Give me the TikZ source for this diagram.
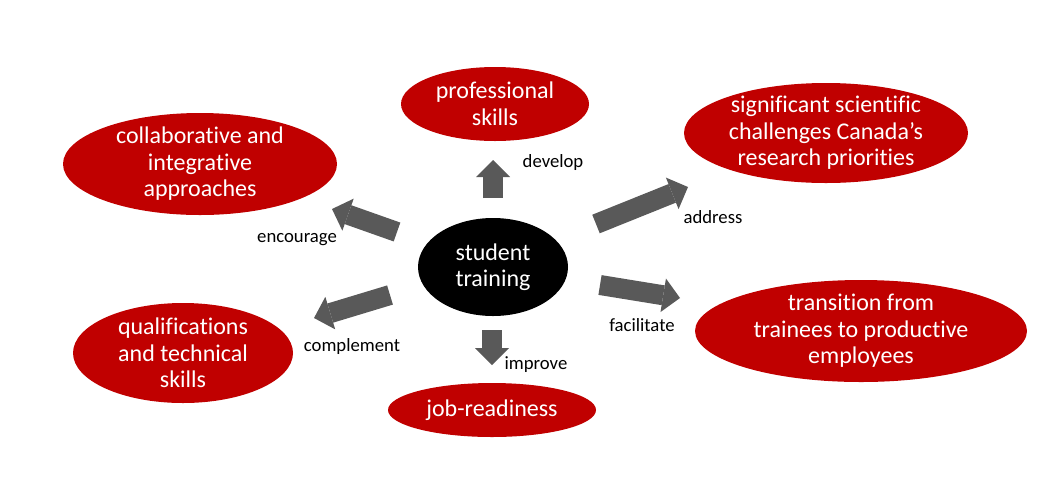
\documentclass[tikz,border=0pt]{standalone}
\usepackage{fontspec}
\setmainfont{Carlito}[Ligatures=CommonOff]
\usetikzlibrary{shapes.geometric,arrows.meta}
\definecolor{darkred}{HTML}{C00000}
\definecolor{arrgray}{HTML}{595959}
\tikzset{
  ell/.style={ellipse, inner sep=0pt, outer sep=0pt, draw=none},
  redell/.style={ell, fill=darkred},
  blackell/.style={ell, fill=black},
  elltext/.style={text=white, align=center, inner sep=0pt, font=\fontsize{24}{26.5}\selectfont},
  lbl/.style={text=black, inner sep=0pt, font=\fontsize{18.7}{22}\selectfont},
  blockarrow/.style={draw=arrgray, line width=20pt,
    -{Triangle[length=17pt, width=34pt, line width=0pt]}}
}
\begin{document}
\begin{tikzpicture}[x=1pt,y=-1pt]
\useasboundingbox (0,0) rectangle (1056,480);
% ellipses
\node[redell, minimum width=188pt, minimum height=74pt] (prof) at (495,104) {};
\node[elltext] at (prof.center) {professional\\skills};
\node[redell, minimum width=284pt, minimum height=100pt] (sci) at (826,133) {};
\node[elltext] at (sci.center) {significant scientific\\challenges Canada’s\\research priorities};
\node[redell, minimum width=274pt, minimum height=102pt] (collab) at (200,164) {};
\node[elltext] at (collab.center) {collaborative and\\integrative\\approaches};
\node[blackell, minimum width=150pt, minimum height=98pt] (student) at (493,267) {};
\node[elltext] at (student.center) {student\\training};
\node[redell, minimum width=220pt, minimum height=100pt] (qual) at (183,353) {};
\node[elltext] at (qual.center) {qualifications\\and technical\\skills};
\node[redell, minimum width=332pt, minimum height=102pt] (trans) at (861,331) {};
\node[elltext] at (trans.center) {transition from\\trainees to productive\\employees};
\node[redell, minimum width=208pt, minimum height=54pt] (job) at (492,410) {};
\node[elltext] at (job.center) {job-readiness};
% arrow end points
\coordinate (devT) at (493,198);  \coordinate (devH) at (493,160);
\coordinate (impT) at (492,330);  \coordinate (impH) at (492,365);
\coordinate (encT) at (397,232);  \coordinate (encH) at (332,209);
\coordinate (addT) at (596,224);  \coordinate (addH) at (688,187);
\coordinate (facT) at (600,285);  \coordinate (facH) at (680,298);
\coordinate (comT) at (390,295);  \coordinate (comH) at (314,318);
\draw[blockarrow] (devT) -- (devH);
\draw[blockarrow] (impT) -- (impH);
\draw[blockarrow] (encT) -- (encH);
\draw[blockarrow] (addT) -- (addH);
\draw[blockarrow] (facT) -- (facH);
\draw[blockarrow] (comT) -- (comH);
% labels
\node[lbl] (ldev) at (553,163) {develop};
\node[lbl] (lenc) at (297,240) {encourage};
\node[lbl] (ladd) at (713,217) {address};
\node[lbl] (lfac) at (642,325) {facilitate};
\node[lbl] (lcom) at (352,347) {complement};
\node[lbl] (limp) at (536,365) {improve};
\end{tikzpicture}
\end{document}
